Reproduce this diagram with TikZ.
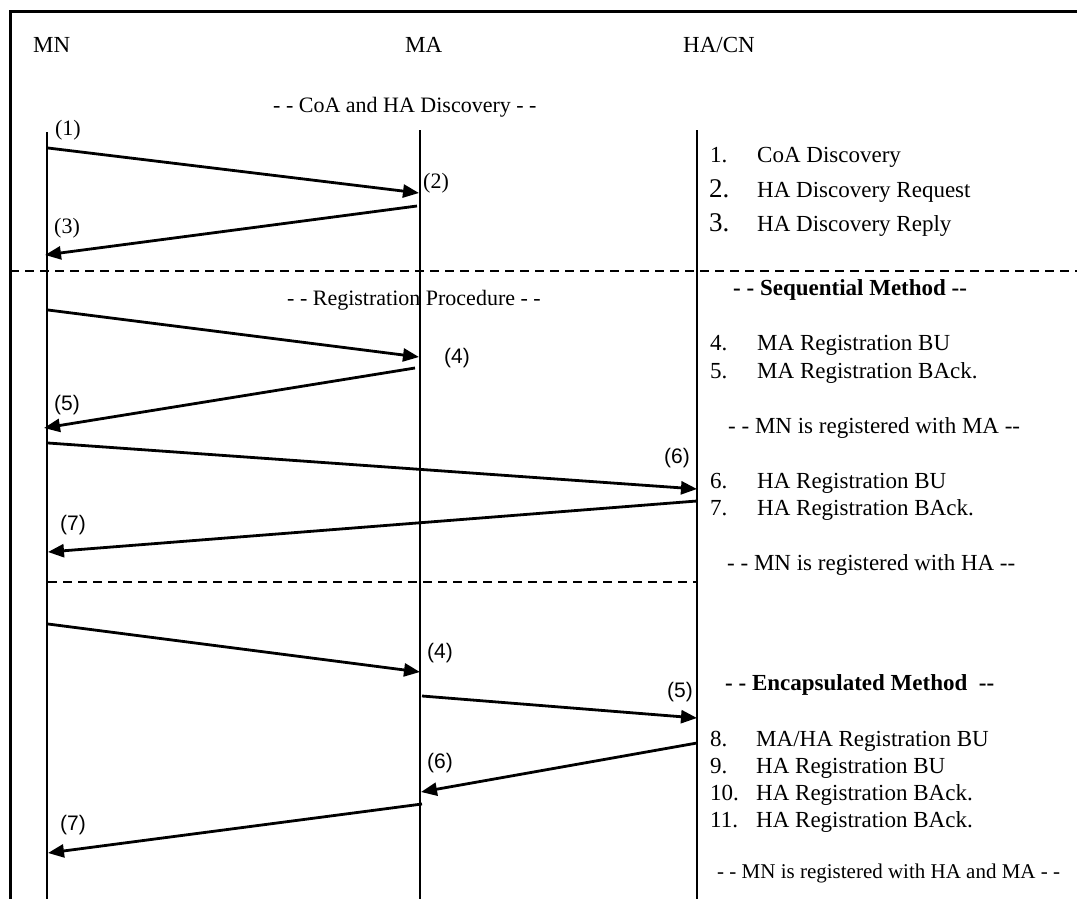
\documentclass[tikz,border=0pt]{standalone}
\usepackage{fontspec}
\setmainfont{Liberation Serif}
\newfontfamily\labsans{Liberation Sans}
\usetikzlibrary{arrows.meta}
\begin{document}
\begin{tikzpicture}[x=1pt,y=-1pt,
  txt/.style={anchor=base west, inner sep=0pt, font=\fontsize{23}{27}\selectfont},
  midtxt/.style={anchor=base west, inner sep=0pt, font=\fontsize{22}{26}\selectfont},
  smalltxt/.style={anchor=base west, inner sep=0pt, font=\fontsize{21}{25}\selectfont},
  boldtxt/.style={anchor=base west, inner sep=0pt, font=\bfseries\fontsize{23}{27}\selectfont},
  bignum/.style={anchor=base west, inner sep=0pt, font=\fontsize{27}{31}\selectfont},
  head/.style={anchor=base west, inner sep=0pt, font=\fontsize{23}{27}\selectfont},
  lab/.style={inner sep=0pt, font=\fontsize{22}{26}\selectfont},
  labs/.style={inner sep=0pt, font=\labsans\fontsize{21}{25}\selectfont},
  life/.style={line width=2.6pt},
  msg/.style={line width=2.8pt, -{Triangle[length=16pt,width=13pt]}},
  sepline/.style={line width=2.8pt, dash pattern=on 9pt off 6pt},
  framel/.style={line width=3pt}]

\useasboundingbox (0,0) rectangle (1077,899);
\fill[white] (0,0) rectangle (1077,899);

% frame
\coordinate (fBL) at (10,899);
\coordinate (fTL) at (10,12);
\coordinate (fTR) at (1077,12);
\draw[framel] (fBL) -- (fTL) -- (fTR);

% heads
\node[head] (MN) at (33,53) {MN};
\node[head] (MA) at (405,53) {MA};
\node[head] (HACN) at (683,53) {HA/CN};

% lifelines
\coordinate (mnT) at (47,132);  \coordinate (mnB) at (47,899);
\coordinate (maT) at (420,130); \coordinate (maB) at (420,899);
\coordinate (haT) at (697,130); \coordinate (haB) at (697,899);
\draw[life] (mnT) -- (mnB);
\draw[life] (maT) -- (maB);
\draw[life] (haT) -- (haB);

% separators
\coordinate (s1L) at (10,271);  \coordinate (s1R) at (1077,271);
\coordinate (s2L) at (48,582);  \coordinate (s2R) at (697,582);
\draw[sepline] (s1L) -- (s1R);
\draw[sepline] (s2L) -- (s2R);

% section titles
\node[midtxt] (tDisc) at (273,113) {- - CoA and HA Discovery - -};
\node[midtxt] (tReg) at (287,305) {- - Registration Procedure - -};

% discovery messages
\coordinate (a1s) at (48,148);  \coordinate (a1e) at (419,193);
\coordinate (a2s) at (417,206); \coordinate (a2e) at (45,255);
\draw[msg] (a1s) -- (a1e);
\draw[msg] (a2s) -- (a2e);
\node[lab] (l1) at (68,130) {(1)};
\node[lab] (l2) at (436,183) {(2)};
\node[lab] (l3) at (67,228) {(3)};

% sequential messages
\coordinate (b4s) at (48,310);  \coordinate (b4e) at (419,357);
\coordinate (b5s) at (415,368); \coordinate (b5e) at (44,428);
\coordinate (b6s) at (48,443);  \coordinate (b6e) at (697,489);
\coordinate (b7s) at (697,501); \coordinate (b7e) at (48,552);
\draw[msg] (b4s) -- (b4e);
\draw[msg] (b5s) -- (b5e);
\draw[msg] (b6s) -- (b6e);
\draw[msg] (b7s) -- (b7e);
\node[labs] (l4) at (457,358) {(4)};
\node[labs] (l5) at (67,405) {(5)};
\node[labs] (l6) at (677,458) {(6)};
\node[labs] (l7) at (73,525) {(7)};

% encapsulated messages
\coordinate (c4s) at (48,624);  \coordinate (c4e) at (420,672);
\coordinate (c5s) at (422,696); \coordinate (c5e) at (697,718);
\coordinate (c6s) at (697,743); \coordinate (c6e) at (421,792);
\coordinate (c7s) at (422,804); \coordinate (c7e) at (48,853);
\draw[msg] (c4s) -- (c4e);
\draw[msg] (c5s) -- (c5e);
\draw[msg] (c6s) -- (c6e);
\draw[msg] (c7s) -- (c7e);
\node[labs] (m4) at (440,653) {(4)};
\node[labs] (m5) at (680,692) {(5)};
\node[labs] (m6) at (440,763) {(6)};
\node[labs] (m7) at (73,825) {(7)};

% right-hand legend
\node[txt] (n1) at (710,162) {1.};
\node[txt] (t1) at (757,162) {CoA Discovery};
\node[bignum] (n2) at (709,197) {2.};
\node[txt] (t2) at (757,197) {HA Discovery Request};
\node[bignum] (n3) at (709,231) {3.};
\node[txt] (t3) at (757,231) {HA Discovery Reply};

\node[boldtxt] (seq) at (733,295) {- - Sequential Method -{}-};
\node[txt] (n4) at (710,350) {4.};
\node[txt] (t4) at (757,350) {MA Registration BU};
\node[txt] (n5) at (710,378) {5.};
\node[txt] (t5) at (757,378) {MA Registration BAck.};
\node[txt] (r1) at (728,433) {- - MN is registered with MA -{}-};
\node[txt] (n6) at (710,488) {6.};
\node[txt] (t6) at (757,488) {HA Registration BU};
\node[txt] (n7) at (710,515) {7.};
\node[txt] (t7) at (757,515) {HA Registration BAck.};
\node[txt] (r2) at (727,570) {- - MN is registered with HA -{}-};

\node[boldtxt] (enc) at (725,690) {- - Encapsulated Method~~-{}-};
\node[txt] (n8) at (710,746) {8.};
\node[txt] (t8) at (756,746) {MA/HA Registration BU};
\node[txt] (n9) at (710,773) {9.};
\node[txt] (t9) at (756,773) {HA Registration BU};
\node[txt] (n10) at (710,800) {10.};
\node[txt] (t10) at (756,800) {HA Registration BAck.};
\node[txt] (n11) at (710,827) {11.};
\node[txt] (t11) at (756,827) {HA Registration BAck.};
\node[smalltxt] (r3) at (717,878) {- - MN is registered with HA and MA - -};

\end{tikzpicture}
\end{document}
